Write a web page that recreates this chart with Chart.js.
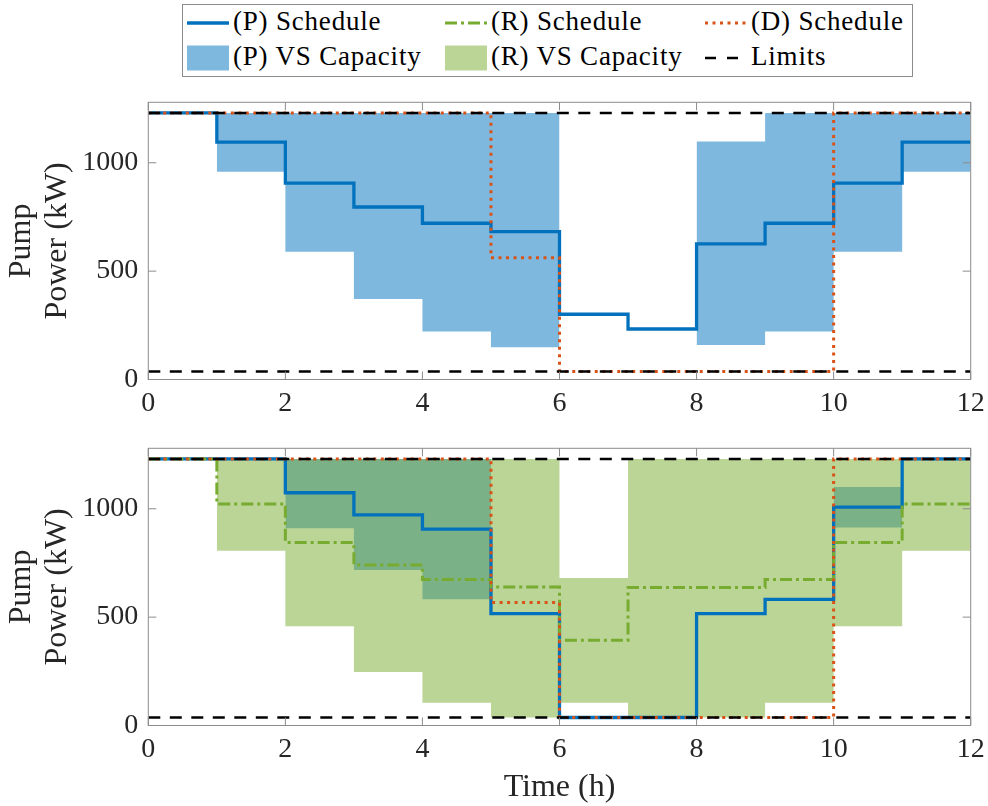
<!DOCTYPE html>
<html lang="en">
<head>
<meta charset="UTF-8">
<title>Pump Power Schedules</title>
<script src="https://cdn.jsdelivr.net/npm/chart.js"></script>
<style>
  html, body { margin: 0; padding: 0; background: #fff; }
  body { width: 988px; height: 806px; position: relative; overflow: hidden; font-family: "Liberation Serif", "Times New Roman", serif; }
  #legend { position: absolute; left: 182px; top: 4px; width: 731px; height: 73px; border: 1px solid #8c8c8c; box-sizing: border-box; background: #fff; }
  #legend svg { position: absolute; }
  #legend span { position: absolute; font-family: "Liberation Serif", "Times New Roman", serif; font-size: 27px; line-height: 1; letter-spacing: 0.8px; white-space: nowrap; color: #000; transform: translateY(-50%); }
  canvas { position: absolute; left: 0; }
</style>
</head>
<body>
<div id="legend"></div>
<canvas id="upper" width="988" height="345" style="top:85px"></canvas>
<canvas id="lower" width="988" height="376" style="top:430px"></canvas>

<script>
// time axis (h) and tick values
const xTicks = [0, 2, 4, 6, 8, 10, 12];
const yTicks = [0, 500, 1000];
const yMax = 1279;
const limitHigh = 1230;
const limitLow = 37;

// upper panel: pump schedule, direct schedule, VS capacity band (per hour)
const pSchedUp = [1230, 1095, 906, 796, 721, 682, 301, 233, 626, 721, 906, 1095];
const dSchedUp = [1230, 1230, 1230, 1230, 1230, 562, 37, 37, 37, 37, 1230, 1230];
const pCapLowUp = [null, 959, 590, 372, 221, 149, null, null, 159, 221, 590, 959];
const pCapHighUp = [null, 1230, 1230, 1230, 1230, 1230, null, null, 1098, 1230, 1230, 1230];

// lower panel
const pSchedLo = [1230, 1230, 1074, 972, 906, 516, 37, 37, 516, 582, 1008, 1230];
const rSchedLo = [1230, 1022, 844, 741, 674, 639, 393, 637, 637, 674, 844, 1022];
const dSchedLo = [1230, 1230, 1230, 1230, 1230, 567, 37, 37, 37, 37, 1230, 1230];
const pCapLowLo = [null, null, 910, 717, 582, null, null, null, null, null, 913, null];
const pCapHighLo = [null, null, 1230, 1230, 1230, null, null, null, null, null, 1101, null];
const rCapLowLo = [null, 806, 458, 247, 105, 37, 105, 37, 37, 105, 458, 806];
const rCapHighLo = [null, 1230, 1230, 1230, 1230, 1230, 680, 1230, 1230, 1230, 1230, 1230];

const blue = '#0072BD', green = '#77AC30', orange = '#D95319';
const blueFill = 'rgba(0,114,189,0.5)', greenFill = 'rgba(119,172,48,0.5)';
const dashR = [12, 4, 3, 4], dashD = [3, 4.5], dashLim = [12, 9.5];

// hourly values -> step points (last value held to the end)
function steps(vals) {
  const pts = vals.map((v, i) => ({ x: i, y: v }));
  pts.push({ x: vals.length, y: vals[vals.length - 1] });
  return pts;
}
// hourly band edge -> flat segment per hour, gap where there is no band
function bandEdge(vals) {
  const pts = [];
  vals.forEach((v, i) => {
    if (v === null) pts.push({ x: i + 0.5, y: null });
    else pts.push({ x: i, y: v }, { x: i + 1, y: v });
  });
  return pts;
}

function lineSet(label, data, color, dash, width, order) {
  return {
    label, data, borderColor: color, borderWidth: width, borderDash: dash,
    stepped: 'before', pointRadius: 0, fill: false, order,
    borderCapStyle: 'butt', borderJoinStyle: 'miter'
  };
}
// filled band between the high edge and the low edge
function bandSets(label, lo, hi, color, order) {
  return [
    { label, data: bandEdge(hi), borderWidth: 0, pointRadius: 0, fill: false, spanGaps: false, order: order + 1 },
    { label, data: bandEdge(lo), borderWidth: 0, pointRadius: 0, fill: '-1', backgroundColor: color, spanGaps: false, order }
  ];
}
function limitSets() {
  return [
    lineSet('Limits', [{ x: 0, y: limitHigh }, { x: 12, y: limitHigh }], '#000', dashLim, 2.5, 1),
    lineSet('Limits', [{ x: 0, y: limitLow }, { x: 12, y: limitLow }], '#000', dashLim, 2.5, 1)
  ];
}

// axes box with inward tick marks on all four sides
const frame = {
  id: 'frame',
  afterDatasetsDraw(chart) {
    const { ctx, chartArea: a, scales: { x, y } } = chart;
    ctx.save();
    ctx.strokeStyle = '#8c8c8c';
    ctx.lineWidth = 1;
    ctx.setLineDash([]);
    ctx.strokeRect(a.left, a.top, a.right - a.left, a.bottom - a.top);
    ctx.beginPath();
    xTicks.forEach(v => {
      const px = x.getPixelForValue(v);
      ctx.moveTo(px, a.bottom); ctx.lineTo(px, a.bottom - 8);
      ctx.moveTo(px, a.top); ctx.lineTo(px, a.top + 8);
    });
    yTicks.forEach(v => {
      const py = y.getPixelForValue(v);
      ctx.moveTo(a.left, py); ctx.lineTo(a.left + 8, py);
      ctx.moveTo(a.right, py); ctx.lineTo(a.right - 8, py);
    });
    ctx.stroke();
    ctx.restore();
  }
};

const serif = '"Liberation Serif", "Times New Roman", serif';
const textColor = '#262626';

function makePlot(id, datasets, padTop, xHeight, xTitle) {
  return new Chart(document.getElementById(id), {
    type: 'line',
    data: { datasets },
    plugins: [frame],
    options: {
      responsive: false,
      animation: false,
      events: [],
      layout: { padding: { top: padTop, right: 17.3, left: 0, bottom: 0 } },
      plugins: { legend: { display: false }, tooltip: { enabled: false } },
      scales: {
        x: {
          type: 'linear', min: 0, max: 12, offset: false,
          grid: { display: false, drawTicks: false },
          border: { display: false },
          afterBuildTicks: s => { s.ticks = xTicks.map(v => ({ value: v })); },
          afterFit: s => { s.height = xHeight; s.paddingLeft = 0; s.paddingRight = 0; },
          ticks: { color: textColor, padding: 7, maxRotation: 0, callback: v => String(v), font: { family: serif, size: 28 } },
          title: {
            display: !!xTitle, text: xTitle || '', color: textColor,
            padding: { top: 0, bottom: 0 },
            font: { family: serif, size: 32, lineHeight: 1.125 }
          }
        },
        y: {
          min: 0, max: yMax,
          grid: { display: false, drawTicks: false },
          border: { display: false },
          afterBuildTicks: s => { s.ticks = yTicks.map(v => ({ value: v })); },
          afterFit: s => { s.width = 148.3; s.paddingTop = 0; s.paddingBottom = 0; },
          ticks: { color: textColor, padding: 10, callback: v => String(v), font: { family: serif, size: 28 } },
          title: {
            display: true, text: ['Pump', 'Power (kW)'], color: textColor,
            padding: { top: 4, bottom: 0 },
            font: { family: serif, size: 32, lineHeight: 1.125 }
          }
        }
      }
    }
  });
}

makePlot('upper', [
  ...bandSets('(P) VS Capacity', pCapLowUp, pCapHighUp, blueFill, 10),
  lineSet('(P) Schedule', steps(pSchedUp), blue, [], 3.3, 4),
  lineSet('(D) Schedule', steps(dSchedUp), orange, dashD, 3, 2),
  ...limitSets()
], 17.3, 50.5, null);

makePlot('lower', [
  ...bandSets('(P) VS Capacity', pCapLowLo, pCapHighLo, blueFill, 10),
  ...bandSets('(R) VS Capacity', rCapLowLo, rCapHighLo, greenFill, 8),
  lineSet('(P) Schedule', steps(pSchedLo), blue, [], 3.3, 4),
  lineSet('(R) Schedule', steps(rSchedLo), green, dashR, 3, 3),
  lineSet('(D) Schedule', steps(dSchedLo), orange, dashD, 3, 2),
  ...limitSets()
], 18.3, 80.5, 'Time (h)');

// legend, three columns by two rows
const legendItems = [
  { label: '(P) Schedule', color: blue, dash: [], width: 3.3, col: 0, row: 0 },
  { label: '(R) Schedule', color: green, dash: dashR, width: 3, col: 1, row: 0 },
  { label: '(D) Schedule', color: orange, dash: dashD, width: 3, col: 2, row: 0 },
  { label: '(P) VS Capacity', fill: blueFill, col: 0, row: 1 },
  { label: '(R) VS Capacity', fill: greenFill, col: 1, row: 1 },
  { label: 'Limits', color: '#000', dash: [11, 11], width: 2.5, col: 2, row: 1 }
];
const colX = [4, 262, 522];
const rowY = [18, 53];
const legend = document.getElementById('legend');
const svgNS = 'http://www.w3.org/2000/svg';
legendItems.forEach(it => {
  const x0 = colX[it.col], yc = rowY[it.row];
  const svg = document.createElementNS(svgNS, 'svg');
  svg.setAttribute('width', 42);
  svg.setAttribute('height', 28);
  svg.style.left = x0 + 'px';
  svg.style.top = (yc - 14) + 'px';
  if (it.fill) {
    const r = document.createElementNS(svgNS, 'rect');
    r.setAttribute('x', 0); r.setAttribute('y', 1.5);
    r.setAttribute('width', 42); r.setAttribute('height', 25);
    r.setAttribute('fill', it.fill);
    svg.appendChild(r);
  } else {
    const l = document.createElementNS(svgNS, 'line');
    l.setAttribute('x1', 0); l.setAttribute('x2', 42);
    l.setAttribute('y1', 14); l.setAttribute('y2', 14);
    l.setAttribute('stroke', it.color);
    l.setAttribute('stroke-width', it.width);
    if (it.dash.length) l.setAttribute('stroke-dasharray', it.dash.join(' '));
    svg.appendChild(l);
  }
  legend.appendChild(svg);
  const s = document.createElement('span');
  s.textContent = it.label;
  s.style.left = (x0 + 46) + 'px';
  s.style.top = (yc - 2) + 'px';
  legend.appendChild(s);
});
</script>
</body>
</html>
